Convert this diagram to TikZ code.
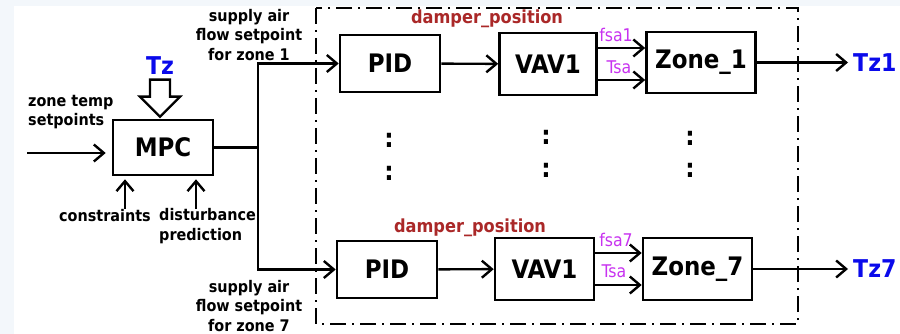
\documentclass[tikz,border=0pt]{standalone}
\usepackage{fontspec}
\setmainfont{DejaVu Sans Condensed}
\usetikzlibrary{arrows.meta,positioning,calc}
\definecolor{ZoneBlue}{RGB}{10,10,235}
\definecolor{SigPink}{RGB}{200,50,240}
\definecolor{DamperRed}{RGB}{170,40,40}
\definecolor{PageGrey}{RGB}{243,247,251}

\begin{document}
\begin{tikzpicture}[x=1pt,y=-1pt,
  block/.style={draw,line width=2.6pt,font=\fontsize{25.5}{26}\selectfont\bfseries,inner sep=0pt},
  lbl/.style={font=\fontsize{16}{19.5}\selectfont\bfseries,inner sep=0pt},
  sig/.style={font=\fontsize{17.5}{18}\selectfont,text=SigPink,inner sep=0pt},
  outlbl/.style={font=\fontsize{24.5}{26}\selectfont\bfseries,text=ZoneBlue,inner sep=0pt},
  damper/.style={font=\fontsize{18}{18}\selectfont\bfseries,text=DamperRed,inner sep=0pt},
  wire/.style={line width=2.4pt},
  arr/.style={wire,-{Straight Barb[length=10pt,width=17pt]}},
  vdots/.style={font=\fontsize{26}{26}\selectfont\bfseries,inner sep=0pt}
]
% page
\fill[PageGrey] (0,0) rectangle (900,334);
\fill[white] (14,6) rectangle (900,334);
\useasboundingbox (0,0) rectangle (900,334);

% controller side
\node[block,minimum width=100pt,minimum height=55pt] (mpc) at (163,147.5) {MPC};
\node[outlbl] (tz) at (160,66) {Tz};
\node[lbl,align=left,anchor=west] (ztsp) at (28,112) {zone temp\\setpoints};
\node[lbl,anchor=west] (cons) at (59,216) {constraints};
\node[lbl,align=left,anchor=west] (dist) at (159,226) {disturbance\\prediction};
\node[lbl,align=center] (sup1) at (249,35) {supply air\\flow setpoint\\for zone 1};
\node[lbl,align=center] (sup7) at (249,306) {supply air\\flow setpoint\\for zone 7};

% zone loops
\draw[line width=2.4pt,dash pattern=on 16pt off 6pt on 2pt off 6pt] (316,8) rectangle (798,324);
\node[block,minimum width=100pt,minimum height=57pt] (pid1) at (390,63.5) {PID};
\node[block,minimum width=97pt,minimum height=62pt] (vav1) at (548,64) {VAV1};
\node[block,minimum width=109pt,minimum height=61pt] (zone1) at (701,62.5) {Zone\_1};
\node[block,minimum width=100pt,minimum height=57pt] (pid7) at (387,269.5) {PID};
\node[block,minimum width=99pt,minimum height=62pt] (vav7) at (544.5,269) {VAV1};
\node[block,minimum width=109pt,minimum height=62pt] (zone7) at (697.5,269) {Zone\_7};
\node[damper] (dp1) at (487,19) {damper\_position};
\node[damper] (dp7) at (470,228) {damper\_position};
\node[sig] (fsa1) at (616,35) {fsa1};
\node[sig] (tsa1) at (619,67) {Tsa};
\node[sig] (fsa7) at (616,240) {fsa7};
\node[sig] (tsa7) at (614,271) {Tsa};
\node[outlbl,anchor=west] (tz1) at (853,62.5) {Tz1};
\node[outlbl,anchor=west] (tz7) at (853,269) {Tz7};
\foreach \cx/\cy [count=\i] in {389/140.5,389/173.5,546/137,546/170,690/138,690/170}
  \node[vdots] (dots\i) at (\cx,\cy) {:};

% connectors
\coordinate (in) at (27,153);
\draw[arr] (in) -- ($(in -| mpc.west)+(-6,0)$);
\coordinate (tztip) at ($(mpc.north)+(-3,-2)$);
\draw[line width=2.4pt] (tztip) -- ++(20,-20) -- ++(-10,0) -- ++(0,-17) -- ++(-20,0) -- ++(0,17) -- ++(-10,0) -- cycle;
\coordinate (c1) at (125,209);
\coordinate (c2) at (196,209);
\draw[arr] (c1) -- ($(c1 |- mpc.south)+(0,3)$);
\draw[arr] (c2) -- ($(c2 |- mpc.south)+(0,3)$);
\coordinate (split) at (258,147.5);
\draw[wire] (mpc.east) -- (split);
\draw[arr] (split) |- (pid1.west);
\draw[arr] (split) |- (pid7.west);
\draw[arr] (pid1) -- (vav1);
\draw[arr] (pid7) -- (vav7);
\coordinate (f1) at ([yshift=16pt]vav1.east);
\coordinate (t1) at ([yshift=-16pt]vav1.east);
\coordinate (f7) at ([yshift=16pt]vav7.east);
\coordinate (t7) at ([yshift=-16pt]vav7.east);
\draw[arr] (f1) -- (f1 -| zone1.west);
\draw[arr] (t1) -- (t1 -| zone1.west);
\draw[arr] (f7) -- (f7 -| zone7.west);
\draw[arr] (t7) -- (t7 -| zone7.west);
\draw[arr,shorten >=5pt] (zone1) -- (tz1);
\draw[arr,shorten >=5pt] (zone7) -- (tz7);
\end{tikzpicture}
\end{document}
